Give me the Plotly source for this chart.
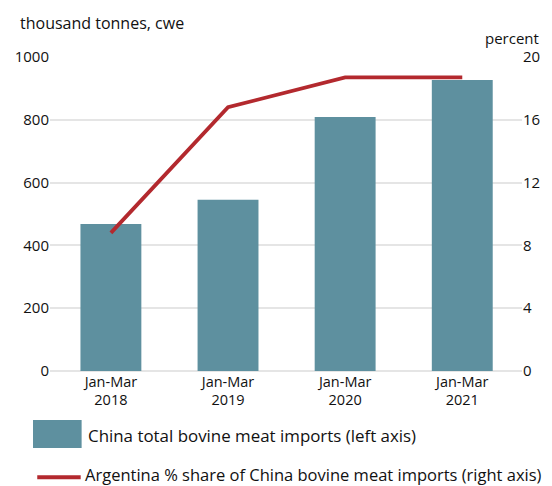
import plotly.graph_objects as go

# Quarterly figures
periods = ["Jan-Mar 2018", "Jan-Mar 2019", "Jan-Mar 2020", "Jan-Mar 2021"]
period_labels = ["Jan-Mar<br>2018", "Jan-Mar<br>2019", "Jan-Mar<br>2020", "Jan-Mar<br>2021"]
china_imports = [468, 545, 809, 927]          # thousand tonnes, cwe
argentina_share = [8.8, 16.8, 18.7, 18.7]     # percent

bar_color = "#5e909f"
line_color = "#b3292e"
grid_color = "#e5e5e5"
font_family = "Open Sans, Noto Sans, sans-serif"
text_color = "#111111"

fig = go.Figure()

fig.add_trace(go.Bar(
    x=periods, y=china_imports,
    marker=dict(color=bar_color, line=dict(width=0)),
    width=0.52,
    name="China total bovine meat imports (left axis)",
    showlegend=False,
))

fig.add_trace(go.Scatter(
    x=periods, y=argentina_share,
    mode="lines",
    line=dict(color=line_color, width=3.8),
    yaxis="y2",
    name="Argentina % share of China bovine meat imports (right axis)",
    showlegend=False,
))

fig.update_layout(
    width=552, height=486,
    margin=dict(l=50, r=27, t=57, b=115),
    plot_bgcolor="white",
    paper_bgcolor="white",
    font=dict(family=font_family, size=14, color=text_color),
    xaxis=dict(
        type="category",
        range=[-0.52, 3.51],
        tickmode="array",
        tickvals=periods,
        ticktext=period_labels,
        showgrid=False,
        showline=False,
        ticks="",
        tickfont=dict(size=14.5),
    ),
    yaxis=dict(
        range=[0, 1000],
        dtick=200,
        showgrid=True,
        gridcolor=grid_color,
        gridwidth=1.5,
        zeroline=True,
        zerolinecolor=grid_color,
        zerolinewidth=1.5,
        showline=False,
        ticks="",
        tickfont=dict(size=15),
    ),
    yaxis2=dict(
        range=[0, 20],
        dtick=4,
        overlaying="y",
        side="right",
        showgrid=False,
        zeroline=False,
        showline=False,
        ticks="",
        tickfont=dict(size=15),
    ),
    annotations=[
        dict(text="thousand tonnes, cwe", xref="paper", yref="paper",
             x=-0.067, y=1.108, xanchor="left", yanchor="middle",
             showarrow=False, font=dict(size=16)),
        dict(text="percent", xref="paper", yref="paper",
             x=1.04, y=1.062, xanchor="right", yanchor="middle",
             showarrow=False, font=dict(size=15)),
        dict(text="China total bovine meat imports (left axis)",
             xref="paper", yref="paper", x=0.0758, y=-0.204,
             xanchor="left", yanchor="middle", showarrow=False,
             font=dict(size=16.9)),
        dict(text="Argentina % share of China bovine meat imports (right axis)",
             xref="paper", yref="paper", x=0.0737, y=-0.3296,
             xanchor="left", yanchor="middle", showarrow=False,
             borderpad=0, borderwidth=0,
             font=dict(size=16.5)),
    ],
    shapes=[
        # legend swatches
        dict(type="rect", xref="paper", yref="paper",
             x0=-0.036, x1=0.067, y0=-0.245, y1=-0.156,
             fillcolor=bar_color, line=dict(width=0)),
        dict(type="line", xref="paper", yref="paper",
             x0=-0.027, x1=0.065, y0=-0.338, y1=-0.338,
             line=dict(color=line_color, width=4)),
    ],
)

fig.write_html("out.html")
